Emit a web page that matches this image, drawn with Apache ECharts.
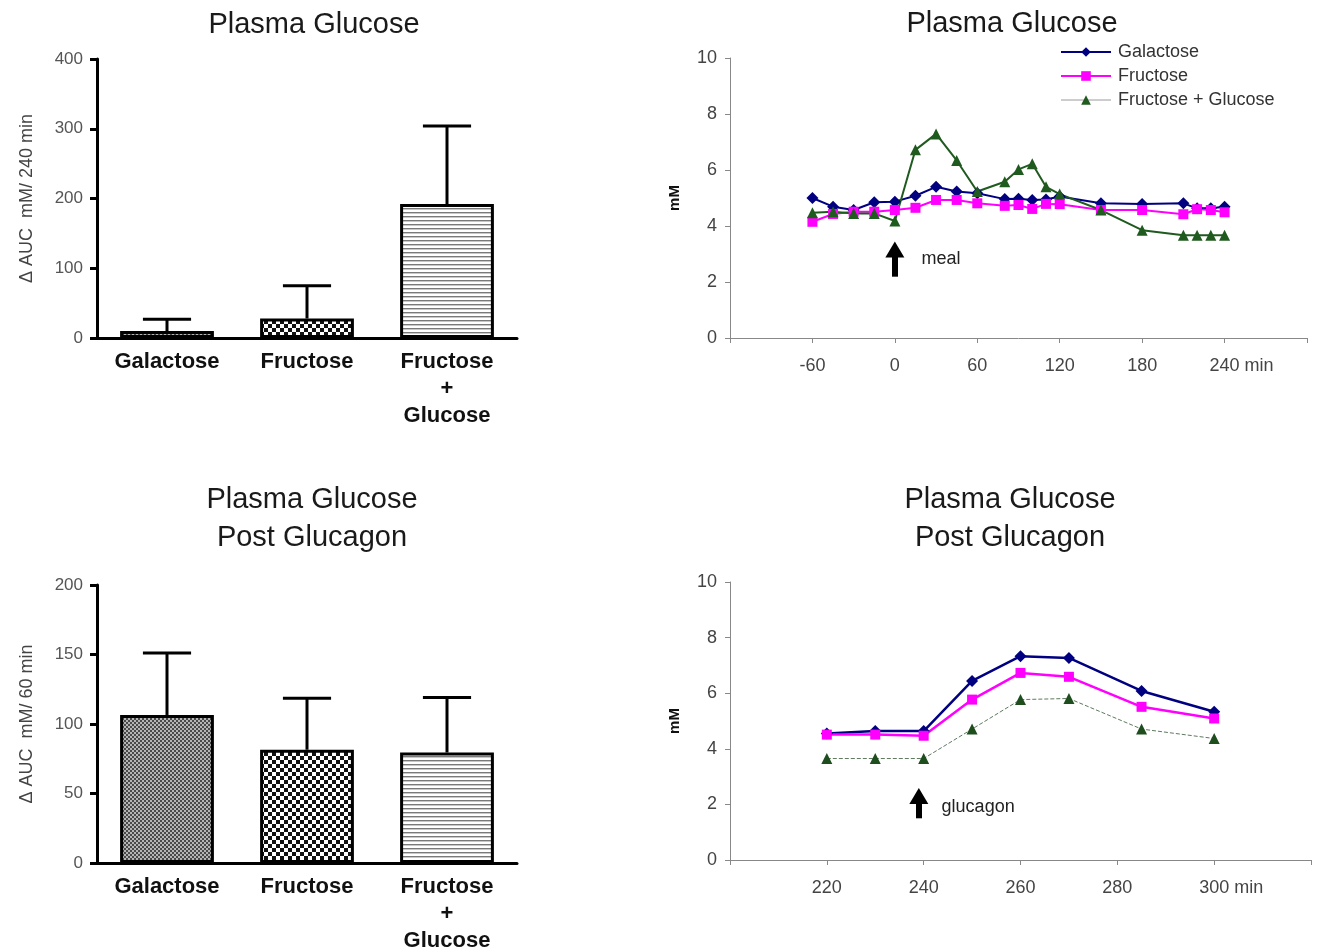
<!DOCTYPE html>
<html><head><meta charset="utf-8">
<script src="https://cdn.jsdelivr.net/npm/echarts@6/dist/echarts.min.js"></script>
<style>html,body{margin:0;padding:0;background:#fff}#c{width:1319px;height:949px}</style>
</head><body><div id="c"></div>
<script>
// ---- data ----
const barCategories = ['Galactose', 'Fructose', 'Fructose\n+\nGlucose'];
const mealAucMean = [10, 28, 192];
const mealAucErrTop = [27, 75, 304];
const glucagonAucMean = [106.5, 81.5, 79.5];
const glucagonAucErrTop = [151, 118.5, 119];

const mealTimes = [-60, -45, -30, -15, 0, 15, 30, 45, 60, 80, 90, 100, 110, 120, 150, 180, 210, 220, 230, 240];
const mealGalactose = [5.0, 4.69, 4.57, 4.85, 4.87, 5.08, 5.4, 5.23, 5.17, 4.96, 4.97, 4.93, 4.95, 5.05, 4.81, 4.79, 4.81, 4.63, 4.63, 4.69];
const mealFructose = [4.15, 4.43, 4.51, 4.51, 4.57, 4.65, 4.93, 4.93, 4.81, 4.72, 4.75, 4.61, 4.79, 4.78, 4.57, 4.57, 4.42, 4.6, 4.57, 4.49];
const mealFruGlu = [4.47, 4.51, 4.45, 4.45, 4.18, 6.72, 7.29, 6.34, 5.23, 5.58, 6.02, 6.22, 5.4, 5.14, 4.57, 3.85, 3.67, 3.67, 3.67, 3.67];

const glucagonTimes = [220, 230, 240, 250, 260, 270, 285, 300];
const glucagonGalactose = [4.55, 4.64, 4.64, 6.44, 7.33, 7.27, 6.08, 5.33];
const glucagonFructose = [4.51, 4.51, 4.47, 5.77, 6.73, 6.59, 5.51, 5.09];
const glucagonFruGlu = [3.65, 3.65, 3.65, 4.71, 5.77, 5.81, 4.71, 4.37];

const seriesNames = ['Galactose', 'Fructose', 'Fructose + Glucose'];
const mealArrow = {x: 0, from: 2.19, to: 3.16, textX: 19, textY: 2.82, text: 'meal'};
const glucagonArrow = {x: 239, from: 1.5, to: 2.3, textX: 243.6, textY: 1.89, text: 'glucagon'};

// ---- styles ----
const FONT = 'Liberation Sans, Arial, sans-serif';
function makePattern(w, h, draw) {
  const c = document.createElement('canvas');
  c.width = w; c.height = h;
  const g = c.getContext('2d');
  g.fillStyle = '#fff'; g.fillRect(0, 0, w, h);
  draw(g);
  return {image: c, repeat: 'repeat'};
}
const patGal = makePattern(4, 4, g => { g.fillStyle = '#4a4a4a'; g.fillRect(0, 0, 2, 2); g.fillRect(2, 2, 2, 2); g.fillStyle = '#b5b5b5'; g.fillRect(2, 0, 2, 2); g.fillRect(0, 2, 2, 2); });
const patFru = makePattern(8, 8, g => { g.fillStyle = '#111'; g.fillRect(0, 0, 4, 4); g.fillRect(4, 4, 4, 4); });
const patFG = makePattern(4, 4, g => { g.fillStyle = '#7a7a7a'; g.fillRect(0, 0, 4, 1); g.fillStyle = '#c8c8c8'; g.fillRect(0, 1, 4, 1); });
const barPatterns = [patGal, patFru, patFG];

function zip(a, b) { return a.map((v, i) => [v, b[i]]); }

function errRender(params, api) {
  const i = api.value(0);
  const p0 = api.coord([i, api.value(1)]);
  const p1 = api.coord([i, api.value(2)]);
  const hw = api.size([1, 0])[0] * 0.172;
  return {type: 'group', children: [
    {type: 'line', shape: {x1: p0[0], y1: p0[1], x2: p1[0], y2: p1[1]}, style: {stroke: '#000', lineWidth: 3}},
    {type: 'line', shape: {x1: p1[0] - hw, y1: p1[1], x2: p1[0] + hw, y2: p1[1]}, style: {stroke: '#000', lineWidth: 3}}
  ]};
}

function barXAxis(gi) {
  return {gridIndex: gi, type: 'category', data: barCategories,
    axisLine: {lineStyle: {color: '#000', width: 3}}, axisTick: {show: false},
    axisLabel: {interval: 0, fontSize: 22, fontWeight: 'bold', color: '#111', lineHeight: 27, margin: 10, fontFamily: FONT}};
}
function barYAxis(gi, max, interval, name) {
  return {gridIndex: gi, type: 'value', min: 0, max: max, interval: interval,
    name: name, nameLocation: 'middle', nameRotate: 90, nameGap: 61,
    nameTextStyle: {fontSize: 18, color: '#444', fontFamily: FONT},
    axisLine: {show: true, lineStyle: {color: '#000', width: 3}},
    axisTick: {show: true, length: 7, lineStyle: {color: '#000', width: 3}},
    axisLabel: {fontSize: 17, color: '#555', margin: 14, fontFamily: FONT},
    splitLine: {show: false}};
}
function lineXAxis(gi, min, max, interval, unitAt) {
  return {gridIndex: gi, type: 'value', min: min, max: max, interval: interval,
    axisLine: {onZero: false, lineStyle: {color: '#888', width: 1}},
    axisTick: {show: true, length: 5, lineStyle: {color: '#888'}},
    splitLine: {show: false},
    axisLabel: {fontSize: 18, color: '#444', margin: 19, fontFamily: FONT,
      formatter: v => (v === min || v === max) ? '' : (v === unitAt ? '{s|}' + v + ' min' : String(v)),
      rich: {s: {width: 34}}}};
}
function lineYAxis(gi) {
  return {gridIndex: gi, type: 'value', min: 0, max: 10, interval: 2,
    name: 'mM', nameLocation: 'middle', nameRotate: 90, nameGap: 48,
    nameTextStyle: {fontSize: 15, fontWeight: 'bold', color: '#111', fontFamily: FONT},
    axisLine: {show: true, onZero: false, lineStyle: {color: '#888', width: 1}},
    axisTick: {show: true, length: 5, lineStyle: {color: '#888'}},
    splitLine: {show: false},
    axisLabel: {fontSize: 18, color: '#444', margin: 13, fontFamily: FONT}};
}
function arrowMarks(a) {
  return {
    markLine: {silent: true, animation: false, symbol: ['none', 'triangle'], symbolSize: [19, 16],
      label: {show: false}, lineStyle: {color: '#000', width: 6, type: 'solid'},
      emphasis: {disabled: true},
      data: [[{coord: [a.x, a.from]}, {coord: [a.x, a.to]}]]},
    markPoint: {silent: true, animation: false, symbol: 'circle', symbolSize: 1,
      itemStyle: {color: 'rgba(0,0,0,0)'},
      label: {show: true, position: 'right', distance: 0, formatter: a.text, color: '#222', fontSize: 18, fontFamily: FONT},
      data: [{coord: [a.textX, a.textY]}]}
  };
}

const titleStyle = {fontSize: 29, fontWeight: 'normal', color: '#1a1a1a', fontFamily: FONT, lineHeight: 38};

const option = {
  animation: false,
  backgroundColor: '#fff',
  textStyle: {fontFamily: FONT},
  title: [
    {text: 'Plasma Glucose', left: 314, top: 6, textAlign: 'center', padding: 0, textStyle: titleStyle},
    {text: 'Plasma Glucose', left: 1012, top: 5, textAlign: 'center', padding: 0, textStyle: titleStyle},
    {text: 'Plasma Glucose\nPost Glucagon', left: 312, top: 481, textAlign: 'center', padding: 0, textStyle: titleStyle},
    {text: 'Plasma Glucose\nPost Glucagon', left: 1010, top: 481, textAlign: 'center', padding: 0, textStyle: titleStyle}
  ],
  legend: {orient: 'vertical', left: 1055, top: 38, itemWidth: 50, itemHeight: 12, itemGap: 6,
    textStyle: {fontSize: 18, color: '#333', fontFamily: FONT, padding: [0, 0, 0, 2]},
    data: [{name: seriesNames[0]}, {name: seriesNames[1]},
      {name: seriesNames[2], lineStyle: {color: '#9a9a9a', width: 1, type: 'solid'}}]},
  grid: [
    {left: 97, top: 59, width: 420, height: 279, outerBoundsMode: 'none'},
    {left: 97, top: 585, width: 420, height: 278, outerBoundsMode: 'none'},
    {left: 730, top: 58, width: 577, height: 280, outerBoundsMode: 'none'},
    {left: 730, top: 582, width: 581, height: 278, outerBoundsMode: 'none'}
  ],
  xAxis: [barXAxis(0), barXAxis(1), lineXAxis(2, -120, 300, 60, 240), lineXAxis(3, 200, 320, 20, 300)],
  yAxis: [barYAxis(0, 400, 100, 'Δ AUC  mM/ 240 min'), barYAxis(1, 200, 50, 'Δ AUC  mM/ 60 min'), lineYAxis(2), lineYAxis(3)],
  series: [
    {type: 'bar', xAxisIndex: 0, yAxisIndex: 0, barWidth: '67%', silent: true,
      itemStyle: {borderColor: '#000', borderWidth: 3},
      data: mealAucMean.map((v, i) => ({value: v, itemStyle: {color: barPatterns[i]}}))},
    {type: 'custom', xAxisIndex: 0, yAxisIndex: 0, silent: true, z: 5, encode: {x: 0, y: [1, 2]},
      renderItem: errRender, data: mealAucMean.map((m, i) => [i, m, mealAucErrTop[i]])},
    {type: 'bar', xAxisIndex: 1, yAxisIndex: 1, barWidth: '67%', silent: true,
      itemStyle: {borderColor: '#000', borderWidth: 3},
      data: glucagonAucMean.map((v, i) => ({value: v, itemStyle: {color: barPatterns[i]}}))},
    {type: 'custom', xAxisIndex: 1, yAxisIndex: 1, silent: true, z: 5, encode: {x: 0, y: [1, 2]},
      renderItem: errRender, data: glucagonAucMean.map((m, i) => [i, m, glucagonAucErrTop[i]])},

    Object.assign({name: seriesNames[0], type: 'line', xAxisIndex: 2, yAxisIndex: 2, data: zip(mealTimes, mealGalactose),
      symbol: 'diamond', symbolSize: 12, lineStyle: {color: '#000080', width: 2}, itemStyle: {color: '#000080'}}, arrowMarks(mealArrow)),
    {name: seriesNames[1], type: 'line', xAxisIndex: 2, yAxisIndex: 2, data: zip(mealTimes, mealFructose),
      symbol: 'rect', symbolSize: 10, lineStyle: {color: '#ff00ff', width: 2}, itemStyle: {color: '#ff00ff'}},
    {name: seriesNames[2], type: 'line', xAxisIndex: 2, yAxisIndex: 2, data: zip(mealTimes, mealFruGlu),
      symbol: 'triangle', symbolSize: 11, lineStyle: {color: '#1f5a1f', width: 2}, itemStyle: {color: '#1f5a1f'}},

    Object.assign({name: seriesNames[0], type: 'line', xAxisIndex: 3, yAxisIndex: 3, data: zip(glucagonTimes, glucagonGalactose),
      symbol: 'diamond', symbolSize: 12, lineStyle: {color: '#000080', width: 2.5}, itemStyle: {color: '#000080'}}, arrowMarks(glucagonArrow)),
    {name: seriesNames[1], type: 'line', xAxisIndex: 3, yAxisIndex: 3, data: zip(glucagonTimes, glucagonFructose),
      symbol: 'rect', symbolSize: 10, lineStyle: {color: '#ff00ff', width: 2.5}, itemStyle: {color: '#ff00ff'}},
    {name: seriesNames[2], type: 'line', xAxisIndex: 3, yAxisIndex: 3, data: zip(glucagonTimes, glucagonFruGlu),
      symbol: 'triangle', symbolSize: 11, lineStyle: {color: '#5f7a5f', width: 1, type: [4, 2]}, itemStyle: {color: '#1e4d1e'}}
  ]
};
const chart = echarts.init(document.getElementById('c'), null, {renderer: 'canvas'});
chart.setOption(option);
</script>
</body></html>
